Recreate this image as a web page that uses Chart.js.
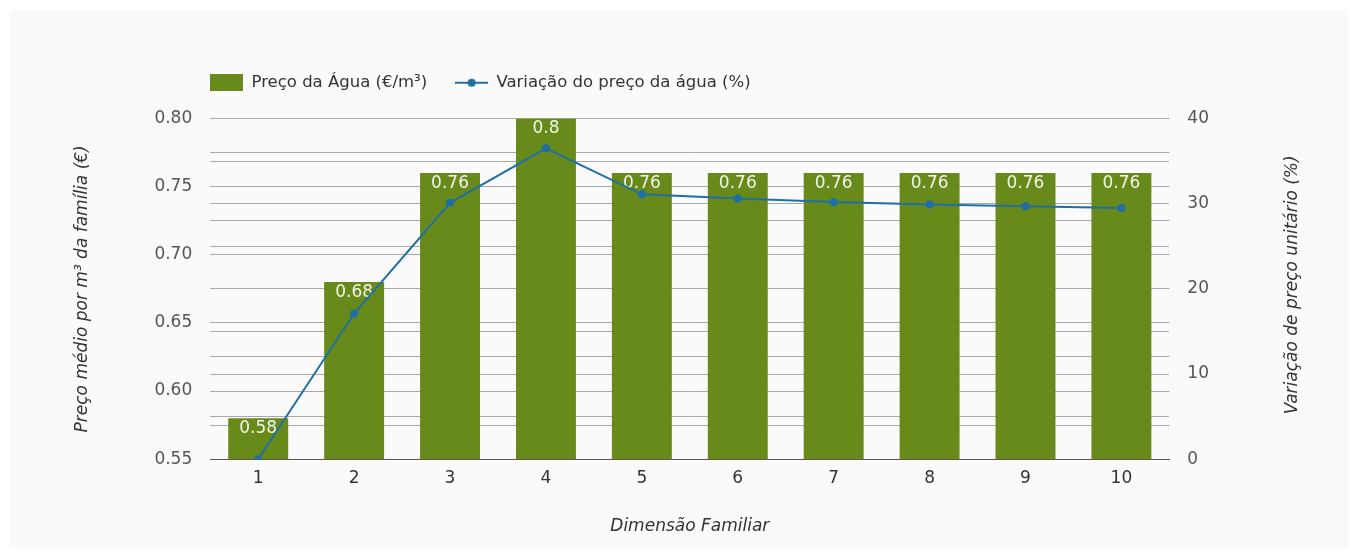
<!DOCTYPE html>
<html>
<head>
<meta charset="utf-8">
<script src="https://cdn.jsdelivr.net/npm/chart.js@4.4.1/dist/chart.umd.min.js"></script>
<style>
    html, body { margin: 0; padding: 0; background: #fff; }
    #wrap { position: absolute; left: 10px; top: 10px; width: 1338px; height: 538px; background: #fafafa; }
</style>
</head>
<body>
<div id="wrap"><canvas id="waterChart"></canvas></div>
<script>
// Preço da água por dimensão familiar
var categories = ['1', '2', '3', '4', '5', '6', '7', '8', '9', '10'];
var precoAgua = [0.58, 0.68, 0.76, 0.8, 0.76, 0.76, 0.76, 0.76, 0.76, 0.76];
var variacaoPreco = [0, 17.1, 30.1, 36.5, 31.1, 30.6, 30.2, 29.9, 29.7, 29.5];
var leftTicks = ['0.55', '0.60', '0.65', '0.70', '0.75', '0.80'];
var rightTicks = [0, 10, 20, 30, 40];

var barLabel = 'Preço da Água (€/m³)';
var lineLabel = 'Variação do preço da água (%)';
var barColor = '#678a1a';
var lineColor = '#1f6fa6';
var font = 'DejaVu Sans';
var fontSize = 17;

// legend icons
var barIcon = document.createElement('canvas');
barIcon.width = 33; barIcon.height = 17;
var bctx = barIcon.getContext('2d');
bctx.fillStyle = barColor;
bctx.fillRect(0, 0, 33, 17);

var lineIcon = document.createElement('canvas');
lineIcon.width = 33; lineIcon.height = 10;
var lctx = lineIcon.getContext('2d');
lctx.strokeStyle = lineColor; lctx.lineWidth = 2;
lctx.beginPath(); lctx.moveTo(0, 5); lctx.lineTo(33, 5); lctx.stroke();
lctx.fillStyle = lineColor;
lctx.beginPath(); lctx.arc(16.5, 5, 4, 0, Math.PI * 2); lctx.fill();

var legendPad = 28;

var layoutTweaks = {
    id: 'layoutTweaks',
    afterLayout: function (chart) {
        if (!chart.legend) return;
        chart.legend.left = chart.chartArea.left - legendPad;
        chart.legend.top = 73 - legendPad - 8.5;
    },
    afterDatasetDraw: function (chart, args) {
        if (args.index !== 1) return;
        var ctx = chart.ctx;
        ctx.save();
        ctx.font = fontSize + 'px "' + font + '"';
        ctx.fillStyle = '#f2f4ea';
        ctx.textAlign = 'center';
        ctx.textBaseline = 'middle';
        args.meta.data.forEach(function (bar, i) {
            ctx.fillText(String(precoAgua[i]), bar.x, bar.y + 10.5);
        });
        ctx.restore();
    },
    afterDraw: function (chart) {
        var ctx = chart.ctx;
        var area = chart.chartArea;
        ctx.save();
        ctx.translate(1283, (area.top + area.bottom) / 2 - 4);
        ctx.rotate(-Math.PI / 2);
        ctx.font = 'italic ' + fontSize + 'px "' + font + '"';
        ctx.fillStyle = '#333';
        ctx.textAlign = 'center';
        ctx.textBaseline = 'middle';
        ctx.fillText('Variação de preço unitário (%)', 0, 0);
        ctx.restore();
    }
};

new Chart(document.getElementById('waterChart'), {
    data: {
        labels: categories,
        datasets: [{
            type: 'line', label: lineLabel, data: variacaoPreco, yAxisID: 'y1',
            borderColor: lineColor, borderWidth: 2, tension: 0,
            pointRadius: 4, pointBackgroundColor: lineColor, pointBorderWidth: 0
        }, {
            type: 'bar', label: barLabel, data: precoAgua, yAxisID: 'y',
            backgroundColor: barColor, barPercentage: 0.625, categoryPercentage: 1
        }]
    },
    options: {
        responsive: true, maintainAspectRatio: false, animation: false,
        layout: { padding: { left: 62, right: 121, top: 54, bottom: 11 } },
        plugins: {
            tooltip: { enabled: false },
            legend: {
                align: 'start',
                labels: {
                    usePointStyle: true, pointStyleWidth: 33, boxHeight: 15, padding: legendPad,
                    color: '#333', font: { family: font, size: 16.5 },
                    generateLabels: function () {
                        return [
                            { text: barLabel, pointStyle: barIcon, datasetIndex: 1, lineWidth: 0, fontColor: '#333' },
                            { text: lineLabel, pointStyle: lineIcon, datasetIndex: 0, lineWidth: 0, fontColor: '#333' }
                        ];
                    }
                }
            }
        },
        scales: {
            x: {
                grid: { display: false },
                border: { display: true, color: '#555', width: 1 },
                ticks: { color: '#333', padding: 1, font: { family: font, size: fontSize } },
                title: { display: true, text: 'Dimensão Familiar', color: '#333', padding: { top: 27, bottom: 0 },
                    font: { family: font, size: fontSize, style: 'italic' } }
            },
            y: {
                position: 'left', min: 0.55, max: 0.8,
                border: { display: false },
                grid: { color: '#a8a8a8', lineWidth: 1, drawTicks: false },
                ticks: {
                    stepSize: 0.025, padding: 18, color: '#555', font: { family: font, size: fontSize },
                    callback: function (v) {
                        var s = v.toFixed(2);
                        return leftTicks.indexOf(s) >= 0 && Math.abs(v * 100 - Math.round(v * 100)) < 0.01 ? s : '';
                    }
                },
                title: { display: true, text: 'Preço médio por m³ da família (€)', color: '#333',
                    padding: { top: 0, bottom: 44 }, font: { family: font, size: fontSize, style: 'italic' } }
            },
            y1: {
                position: 'right', min: 0, max: 40,
                border: { display: false },
                grid: { color: '#a8a8a8', lineWidth: 1, drawTicks: false },
                ticks: {
                    stepSize: 5, padding: 18, color: '#555', font: { family: font, size: fontSize },
                    callback: function (v) { return rightTicks.indexOf(v) >= 0 ? String(v) : ''; }
                }
            }
        }
    },
    plugins: [layoutTweaks]
});
</script>
</body>
</html>
